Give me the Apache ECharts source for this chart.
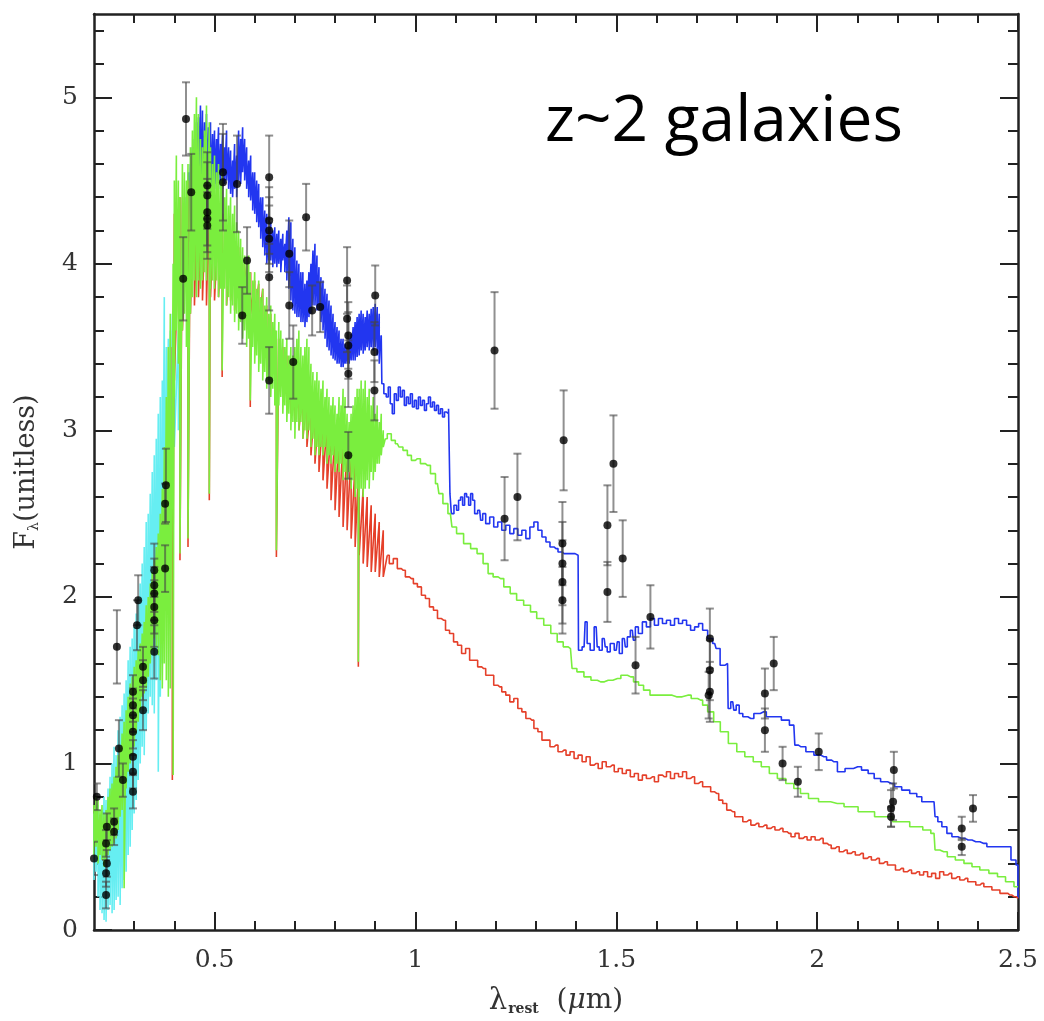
<!DOCTYPE html>
<html>
<head>
<meta charset="utf-8">
<script src="https://cdn.jsdelivr.net/npm/echarts@6/dist/echarts.min.js"></script>
<style>
  html, body { margin: 0; padding: 0; background: #fff; }
  #main { width: 1044px; height: 1021px; }
</style>
</head>
<body>
<div id="main"></div>
<script>
// ---- axis ticks ----
const xMajor = [0.5, 1, 1.5, 2, 2.5];
const xMinor = [0.3, 0.4, 0.6, 0.7, 0.8, 0.9, 1.1, 1.2, 1.3, 1.4, 1.6, 1.7, 1.8, 1.9, 2.1, 2.2, 2.3, 2.4];
const yMajor = [0, 1, 2, 3, 4, 5];
const yMinor = [0.2, 0.4, 0.6, 0.8, 1.2, 1.4, 1.6, 1.8, 2.2, 2.4, 2.6, 2.8, 3.2, 3.4, 3.6, 3.8, 4.2, 4.4, 4.6, 4.8, 5.2, 5.4];

// ---- model spectra: noisy part as [x, high, low], smooth part as [x, y] ----
const cyanBand = [
  [0.200,0.70,0.30],[0.205,0.62,0.35],[0.210,0.75,0.20],[0.215,0.68,0.12],[0.220,0.72,0.10],[0.225,0.80,0.06],
  [0.230,0.78,0.05],[0.235,0.85,0.12],[0.240,0.92,0.15],[0.245,1.00,0.10],[0.250,1.10,0.12],[0.255,1.05,0.18],
  [0.260,1.20,0.20],[0.265,1.28,0.15],[0.270,1.35,0.25],[0.275,1.42,0.30],[0.280,1.50,0.35],[0.285,1.62,0.45],
  [0.290,1.70,0.50],[0.295,1.75,0.60],[0.300,1.82,0.70],[0.305,1.90,0.78],[0.310,2.00,0.90],[0.315,2.08,1.00],
  [0.320,2.20,1.10],[0.325,2.30,1.05],[0.330,2.45,1.20],[0.335,2.50,1.30],[0.340,2.62,1.40],[0.345,2.75,1.35],
  [0.350,2.85,1.30],[0.355,2.95,1.50],[0.360,3.10,0.95],[0.365,3.20,1.40],[0.370,3.30,1.60],[0.375,3.80,1.90],
  [0.380,3.50,2.20],[0.385,3.55,2.40],[0.390,3.60,2.50],[0.395,3.70,2.80],[0.400,3.65,2.90],[0.410,3.60,3.00]
];

const blueBand = [
  [0.430,4.40,3.90],[0.435,4.55,3.95],[0.440,4.60,4.00],[0.445,4.70,4.05],[0.450,4.75,4.10],[0.455,4.85,4.20],
  [0.460,4.88,4.30],[0.465,4.95,4.35],[0.470,4.92,4.40],[0.475,4.85,4.38],[0.480,4.90,4.45],[0.485,4.82,4.40],
  [0.490,4.85,4.42],[0.495,4.78,4.45],[0.500,4.80,4.45],[0.505,4.75,4.48],[0.510,4.82,4.50],[0.515,4.72,4.45],
  [0.520,4.78,4.45],[0.525,4.70,4.48],[0.530,4.80,4.50],[0.535,4.70,4.45],[0.540,4.68,4.42],[0.545,4.62,4.40],
  [0.550,4.72,4.45],[0.555,4.65,4.40],[0.560,4.80,4.50],[0.565,4.75,4.48],[0.570,4.82,4.55],[0.575,4.75,4.50],
  [0.580,4.70,4.45],[0.585,4.62,4.40],[0.590,4.65,4.38],[0.595,4.55,4.32],[0.600,4.55,4.30],[0.605,4.50,4.25],
  [0.610,4.48,4.22],[0.615,4.40,4.15],[0.620,4.40,4.10],[0.625,4.32,4.05],[0.630,4.30,4.00],[0.635,4.22,4.02],
  [0.640,4.25,4.02],[0.645,4.20,3.98],[0.650,4.22,4.00],[0.655,4.18,3.98],[0.660,4.20,4.00],[0.665,4.15,3.95],
  [0.670,4.18,4.02],[0.675,4.12,3.95],[0.680,4.20,3.90],[0.685,4.28,3.85],[0.690,4.25,3.78],[0.695,4.15,3.72],
  [0.700,4.10,3.70],[0.705,4.02,3.68],[0.710,4.00,3.68],[0.715,3.95,3.65],[0.720,3.95,3.65],[0.725,3.88,3.62],
  [0.730,3.90,3.65],[0.735,3.95,3.68],[0.740,4.00,3.70],[0.745,4.08,3.75],[0.750,4.12,3.75],[0.755,4.05,3.72],
  [0.760,3.98,3.72],[0.765,3.92,3.65],[0.770,3.90,3.60],[0.775,3.85,3.55],[0.780,3.82,3.50],[0.785,3.78,3.48],
  [0.790,3.75,3.45],[0.795,3.70,3.43],[0.800,3.65,3.42],[0.805,3.62,3.40],[0.810,3.60,3.40],[0.815,3.55,3.38],
  [0.820,3.55,3.38],[0.825,3.52,3.40],[0.830,3.50,3.40],[0.835,3.55,3.40],[0.840,3.58,3.42],[0.845,3.62,3.42],
  [0.850,3.65,3.42],[0.855,3.68,3.44],[0.860,3.70,3.45],[0.865,3.72,3.48],[0.870,3.70,3.46],[0.875,3.68,3.48],
  [0.880,3.72,3.50],[0.885,3.70,3.48],[0.890,3.73,3.50],[0.895,3.74,3.48],[0.900,3.76,3.50],[0.905,3.74,3.45],
  [0.910,3.70,3.40]
];
const blueTail = [
  [0.915,3.57],[0.918,3.28],[0.925,3.22],[0.93,3.20],[0.935,3.26],[0.94,3.16],[0.945,3.10],[0.95,3.22],[0.955,3.18],
  [0.96,3.26],[0.965,3.20],[0.97,3.24],[0.975,3.15],[0.98,3.20],[0.985,3.16],[0.99,3.22],[0.995,3.14],[1.0,3.18],
  [1.005,3.13],[1.01,3.20],[1.015,3.15],[1.02,3.18],[1.025,3.12],[1.03,3.16],[1.035,3.20],[1.04,3.14],[1.045,3.17],
  [1.05,3.12],[1.055,3.15],[1.06,3.10],[1.065,3.13],[1.07,3.08],[1.075,3.11],[1.08,3.10],[1.085,3.13],[1.087,2.62],
  [1.092,2.50],[1.1,2.55],[1.105,2.52],[1.11,2.58],[1.115,2.60],[1.12,2.55],[1.125,2.62],[1.13,2.60],[1.135,2.55],
  [1.14,2.62],[1.145,2.58],[1.15,2.50],[1.16,2.52],[1.165,2.46],[1.17,2.50],[1.18,2.44],[1.19,2.48],[1.2,2.42],
  [1.21,2.45],[1.22,2.40],[1.23,2.43],[1.24,2.38],[1.25,2.41],[1.26,2.37],[1.27,2.40],[1.28,2.35],[1.29,2.42],
  [1.3,2.45],[1.31,2.40],[1.32,2.36],[1.33,2.33],[1.34,2.30],[1.35,2.29],[1.36,2.27],[1.37,2.26],[1.38,2.26],
  [1.39,2.26],[1.405,2.25],[1.407,1.68],[1.41,1.68],[1.42,1.70],[1.425,1.85],[1.43,1.72],[1.44,1.68],[1.45,1.82],
  [1.455,1.70],[1.46,1.68],[1.47,1.75],[1.475,1.70],[1.48,1.67],[1.49,1.72],[1.5,1.68],[1.505,1.73],[1.51,1.66],
  [1.52,1.75],[1.525,1.70],[1.53,1.76],[1.54,1.80],[1.545,1.74],[1.55,1.82],[1.56,1.78],[1.57,1.85],[1.58,1.82],
  [1.59,1.87],[1.6,1.83],[1.61,1.87],[1.62,1.84],[1.63,1.86],[1.64,1.83],[1.65,1.87],[1.66,1.84],[1.67,1.86],
  [1.68,1.83],[1.69,1.80],[1.7,1.82],[1.71,1.84],[1.72,1.80],[1.735,1.75],[1.745,1.72],[1.752,1.69],[1.765,1.59],
  [1.777,1.60],[1.78,1.33],[1.79,1.37],[1.795,1.32],[1.802,1.35],[1.81,1.30],[1.82,1.28],[1.835,1.27],[1.85,1.30],
  [1.867,1.31],[1.88,1.28],[1.902,1.28],[1.92,1.26],[1.942,1.23],[1.947,1.11],[1.96,1.10],[1.984,1.07],[2.0,1.05],
  [2.017,1.04],[2.03,1.02],[2.042,1.01],[2.059,0.95],[2.08,0.97],[2.101,0.98],[2.12,0.96],[2.134,0.94],[2.15,0.91],
  [2.166,0.89],[2.185,0.88],[2.201,0.86],[2.22,0.84],[2.241,0.82],[2.255,0.80],[2.266,0.77],[2.291,0.77],[2.296,0.68],
  [2.305,0.65],[2.316,0.62],[2.33,0.58],[2.341,0.56],[2.36,0.55],[2.376,0.54],[2.395,0.53],[2.415,0.52],[2.43,0.50],
  [2.45,0.50],[2.475,0.50],[2.49,0.42],[2.5,0.39],[2.5,0.19]
];

const redBand = [
  [0.395,3.50,0.90],[0.400,4.30,3.30],[0.414,4.40,2.22],[0.420,4.40,3.60],[0.434,4.50,2.30],[0.440,4.50,3.70],
  [0.450,4.60,3.75],[0.460,4.60,3.80],[0.470,4.50,3.78],[0.480,4.50,3.75],[0.487,4.45,2.58],[0.490,4.40,3.80],
  [0.500,4.40,3.78],[0.510,4.30,3.80],[0.519,4.25,3.32],[0.520,4.30,3.82],[0.530,4.20,3.75],[0.540,4.20,3.78],
  [0.550,4.10,3.72],[0.560,4.10,3.80],[0.570,4.00,3.72],[0.580,4.00,3.75],[0.589,3.95,3.14],[0.590,3.95,3.70],
  [0.600,3.90,3.68],[0.610,3.88,3.60],[0.620,3.85,3.50],[0.630,3.75,3.45],[0.640,3.70,3.38],[0.650,3.60,3.30],
  [0.654,3.55,2.24],[0.660,3.55,3.25],[0.670,3.50,3.20],[0.680,3.45,3.15],[0.690,3.40,3.10],[0.700,3.35,3.05],
  [0.710,3.30,3.00],[0.720,3.25,2.95],[0.730,3.22,2.90],[0.740,3.20,2.85],[0.750,3.18,2.80],[0.760,3.15,2.75],
  [0.770,3.10,2.70],[0.780,3.05,2.65],[0.790,3.02,2.58],[0.800,3.00,2.52],[0.810,2.98,2.48],[0.820,2.95,2.42],
  [0.830,2.92,2.40],[0.840,2.88,2.35],[0.850,2.80,2.30],[0.858,2.75,1.58],[0.860,2.72,2.25],[0.870,2.65,2.20],
  [0.880,2.60,2.18],[0.890,2.55,2.15],[0.900,2.50,2.15],[0.910,2.45,2.12],[0.920,2.40,2.12]
];
const redTail = [
  [0.93,2.25],[0.94,2.20],[0.95,2.23],[0.96,2.17],[0.97,2.16],[0.98,2.12],[0.99,2.11],[1.00,2.08],[1.01,2.06],
  [1.02,2.01],[1.03,1.99],[1.04,1.94],[1.05,1.92],[1.06,1.87],[1.07,1.86],[1.08,1.80],[1.09,1.78],[1.10,1.73],
  [1.11,1.71],[1.12,1.66],[1.13,1.69],[1.14,1.62],[1.15,1.62],[1.16,1.58],[1.17,1.57],[1.18,1.53],[1.19,1.53],
  [1.20,1.47],[1.21,1.46],[1.22,1.43],[1.23,1.41],[1.24,1.37],[1.25,1.39],[1.26,1.33],[1.27,1.31],[1.28,1.27],
  [1.29,1.26],[1.30,1.21],[1.31,1.19],[1.32,1.14],[1.33,1.14],[1.34,1.10],[1.35,1.11],[1.36,1.07],[1.37,1.08],
  [1.38,1.05],[1.39,1.07],[1.40,1.03],[1.41,1.05],[1.42,1.01],[1.43,1.04],[1.44,0.99],[1.45,1.00],[1.46,0.97],
  [1.47,1.01],[1.48,0.98],[1.49,0.99],[1.50,0.95],[1.51,0.97],[1.52,0.94],[1.53,0.96],[1.54,0.92],[1.55,0.94],
  [1.56,0.90],[1.57,0.93],[1.58,0.91],[1.59,0.92],[1.60,0.89],[1.61,0.93],[1.62,0.92],[1.63,0.95],[1.64,0.91],
  [1.65,0.94],[1.66,0.92],[1.67,0.95],[1.68,0.91],[1.69,0.92],[1.70,0.88],[1.71,0.89],[1.72,0.86],[1.73,0.86],
  [1.74,0.83],[1.75,0.82],[1.76,0.78],[1.77,0.76],[1.78,0.72],[1.79,0.71],[1.80,0.68],[1.81,0.68],[1.82,0.65],
  [1.83,0.66],[1.84,0.63],[1.85,0.64],[1.86,0.62],[1.87,0.63],[1.88,0.61],[1.89,0.62],[1.90,0.60],[1.91,0.61],
  [1.92,0.59],[1.93,0.58],[1.94,0.56],[1.95,0.58],[1.96,0.55],[1.97,0.56],[1.98,0.54],[1.99,0.56],[2.00,0.54],
  [2.01,0.55],[2.02,0.52],[2.03,0.51],[2.04,0.49],[2.05,0.50],[2.06,0.47],[2.07,0.48],[2.08,0.46],[2.09,0.47],
  [2.10,0.45],[2.11,0.46],[2.12,0.43],[2.13,0.44],[2.14,0.42],[2.15,0.43],[2.16,0.40],[2.17,0.41],[2.18,0.39],
  [2.19,0.39],[2.20,0.36],[2.21,0.37],[2.22,0.35],[2.23,0.36],[2.24,0.34],[2.25,0.35],[2.26,0.33],[2.27,0.35],
  [2.28,0.32],[2.29,0.34],[2.30,0.31],[2.31,0.35],[2.32,0.33],[2.33,0.34],[2.34,0.31],[2.35,0.32],[2.36,0.30],
  [2.37,0.31],[2.38,0.29],[2.39,0.29],[2.40,0.27],[2.41,0.28],[2.42,0.26],[2.43,0.26],[2.44,0.24],[2.45,0.24],
  [2.46,0.22],[2.47,0.22],[2.48,0.21],[2.49,0.20],[2.50,0.19]
];

const greenBand = [
  [0.200,0.75,0.45],[0.205,0.80,0.50],[0.210,0.78,0.40],[0.215,0.72,0.45],[0.220,0.75,0.42],[0.225,0.70,0.38],
  [0.230,0.72,0.40],[0.235,0.80,0.45],[0.240,0.85,0.48],[0.245,0.88,0.50],[0.250,0.92,0.52],[0.255,0.98,0.55],
  [0.260,1.05,0.60],[0.265,1.10,0.68],[0.270,1.18,0.72],[0.275,1.25,0.25],[0.280,1.32,0.85],[0.285,1.40,0.95],
  [0.290,1.48,1.00],[0.295,1.52,1.05],[0.300,1.58,1.10],[0.305,1.62,1.18],[0.310,1.68,1.25],[0.315,1.72,1.32],
  [0.320,1.78,1.40],[0.325,1.85,1.42],[0.330,1.95,1.45],[0.335,2.00,1.52],[0.340,2.08,1.60],[0.345,2.15,1.68],
  [0.350,2.22,1.75],[0.355,2.30,1.70],[0.360,2.38,1.65],[0.365,2.50,1.50],[0.370,2.65,1.45],[0.375,2.90,1.60],
  [0.380,3.20,1.50],[0.385,3.50,1.40],[0.390,3.70,1.45],[0.397,4.00,0.93],[0.400,4.50,3.20],[0.405,4.65,3.60],
  [0.410,4.50,3.40],[0.414,4.40,2.26],[0.420,4.60,3.60],[0.425,4.55,3.70],[0.430,4.50,3.50],[0.434,4.60,2.35],
  [0.440,4.70,3.70],[0.445,4.80,3.80],[0.450,4.90,3.90],[0.455,5.00,3.80],[0.460,4.90,3.90],[0.465,4.75,3.85],
  [0.470,4.70,3.90],[0.475,4.80,3.95],[0.480,4.95,3.90],[0.487,4.85,2.62],[0.490,4.70,3.85],[0.495,4.60,3.90],
  [0.500,4.65,3.85],[0.505,4.55,3.90],[0.510,4.60,3.80],[0.515,4.50,3.85],[0.519,4.55,3.36],[0.525,4.40,3.85],
  [0.530,4.45,3.75],[0.535,4.35,3.80],[0.540,4.40,3.70],[0.545,4.30,3.75],[0.550,4.35,3.65],[0.555,4.25,3.70],
  [0.560,4.20,3.60],[0.565,4.15,3.65],[0.570,4.10,3.55],[0.575,4.05,3.60],[0.580,4.00,3.50],[0.585,4.05,3.55],
  [0.589,3.95,3.18],[0.595,3.90,3.50],[0.600,3.95,3.40],[0.605,3.85,3.45],[0.610,3.90,3.35],[0.615,3.80,3.40],
  [0.620,3.85,3.30],[0.625,3.75,3.35],[0.630,3.80,3.25],[0.635,3.70,3.30],[0.640,3.75,3.20],[0.645,3.65,3.25],
  [0.650,3.70,3.15],[0.654,3.60,2.28],[0.660,3.65,3.15],[0.665,3.60,3.20],[0.670,3.55,3.10],[0.675,3.50,3.15],
  [0.680,3.55,3.05],[0.685,3.45,3.10],[0.690,3.50,3.00],[0.695,3.45,3.05],[0.700,3.50,2.95],[0.705,3.55,3.05],
  [0.710,3.60,3.00],[0.715,3.50,3.05],[0.720,3.45,2.95],[0.725,3.50,3.00],[0.730,3.55,2.95],[0.735,3.50,3.00],
  [0.740,3.40,2.90],[0.745,3.35,2.95],[0.750,3.30,2.85],[0.755,3.35,2.90],[0.760,3.30,2.85],[0.765,3.25,2.90],
  [0.770,3.30,2.85],[0.775,3.20,2.90],[0.780,3.25,2.80],[0.785,3.20,2.85],[0.790,3.15,2.80],[0.795,3.20,2.85],
  [0.800,3.15,2.75],[0.805,3.10,2.80],[0.810,3.20,2.75],[0.815,3.15,2.80],[0.820,3.25,2.70],[0.825,3.20,2.75],
  [0.830,3.10,2.70],[0.835,3.05,2.75],[0.840,3.10,2.65],[0.845,3.15,2.70],[0.850,3.20,2.60],[0.855,3.25,2.65],
  [0.858,3.20,1.61],[0.860,3.25,2.60],[0.865,3.30,2.65],[0.870,3.25,2.60],[0.875,3.30,2.65],[0.880,3.20,2.70],
  [0.885,3.25,2.65],[0.890,3.15,2.75],[0.895,3.20,2.70],[0.900,3.10,2.75],[0.905,3.15,2.80],[0.910,3.05,2.80],
  [0.915,3.10,2.85],[0.920,3.00,2.90]
];
const greenTail = [
  [0.925,2.95],[0.935,2.98],[0.945,2.94],[0.955,2.92],[0.963,2.90],[0.975,2.88],[0.985,2.85],[0.995,2.82],
  [1.005,2.83],[1.02,2.80],[1.03,2.79],[1.045,2.74],[1.055,2.68],[1.062,2.62],[1.075,2.56],[1.087,2.50],
  [1.095,2.42],[1.11,2.38],[1.13,2.32],[1.145,2.29],[1.162,2.26],[1.175,2.20],[1.187,2.14],[1.2,2.12],
  [1.212,2.11],[1.228,2.06],[1.244,2.02],[1.26,1.98],[1.279,1.95],[1.294,1.91],[1.31,1.87],[1.329,1.83],
  [1.345,1.78],[1.361,1.73],[1.375,1.70],[1.386,1.69],[1.394,1.57],[1.41,1.55],[1.429,1.52],[1.445,1.50],
  [1.461,1.49],[1.48,1.50],[1.503,1.51],[1.52,1.53],[1.536,1.52],[1.55,1.49],[1.561,1.47],[1.575,1.44],
  [1.593,1.41],[1.61,1.41],[1.628,1.41],[1.65,1.40],[1.678,1.41],[1.695,1.39],[1.71,1.38],[1.72,1.35],
  [1.735,1.31],[1.75,1.25],[1.768,1.19],[1.79,1.12],[1.81,1.07],[1.83,1.04],[1.852,1.01],[1.87,0.98],
  [1.892,0.94],[1.91,0.91],[1.934,0.88],[1.95,0.85],[1.967,0.82],[1.99,0.79],[2.017,0.77],[2.05,0.76],
  [2.084,0.74],[2.12,0.71],[2.166,0.68],[2.21,0.65],[2.251,0.62],[2.275,0.60],[2.291,0.58],[2.296,0.48],
  [2.315,0.47],[2.333,0.44],[2.355,0.42],[2.376,0.40],[2.395,0.38],[2.415,0.36],[2.44,0.34],[2.458,0.32],
  [2.48,0.29],[2.5,0.26]
];

// ---- photometric points ----
const ptX = [0.200,0.207,0.232,0.230,0.232,0.230,0.230,0.250,0.250,0.257,0.262,0.272,0.297,0.297,0.297,0.297,0.297,0.297,0.297,
  0.307,0.310,0.322,0.322,0.322,0.350,0.350,0.350,0.350,0.350,0.350,0.379,0.377,0.377,0.422,0.429,0.442,0.482,0.482,0.482,0.482,0.482,
  0.521,0.521,0.556,0.569,0.581,0.636,0.636,0.636,0.636,0.636,0.636,0.686,0.686,0.696,0.728,0.743,0.763,0.830,0.830,0.833,0.833,0.833,0.833,
  0.900,0.898,0.898,1.197,1.222,1.254,1.369,1.366,1.366,1.366,1.366,1.478,1.478,1.493,1.516,1.548,1.585,1.733,1.733,1.733,1.730,
  1.870,1.870,1.892,1.914,1.952,2.004,2.191,2.189,2.184,2.184,2.360,2.360,2.388];
const ptY = [0.43,0.80,0.62,0.52,0.40,0.34,0.21,0.65,0.59,1.70,1.09,0.90,1.43,1.35,1.29,1.19,1.04,0.95,0.83,
  1.83,1.98,1.58,1.50,1.32,2.16,2.07,2.02,1.94,1.86,1.67,2.67,2.56,2.17,3.91,4.87,4.43,4.47,4.41,4.31,4.27,4.23,
  4.55,4.49,4.48,3.69,4.02,4.52,4.26,4.20,4.15,3.92,3.30,4.06,3.75,3.41,4.28,3.72,3.74,3.90,3.67,3.57,3.51,3.34,2.85,
  3.81,3.47,3.24,3.48,2.47,2.60,2.94,2.32,2.20,2.09,1.98,2.43,2.03,2.80,2.23,1.59,1.88,1.75,1.56,1.43,1.41,
  1.42,1.20,1.60,1.00,0.89,1.07,0.96,0.77,0.73,0.68,0.61,0.50,0.73];
const ptErr = [0.10,0.08,0.08,0.08,0.08,0.08,0.08,0.08,0.08,0.22,0.17,0.10,0.10,0.10,0.10,0.10,0.10,0.10,0.10,
  0.15,0.15,0.12,0.12,0.12,0.16,0.16,0.16,0.16,0.16,0.16,0.22,0.12,0.14,0.25,0.22,0.23,0.20,0.20,0.20,0.20,0.20,
  0.29,0.29,0.29,0.17,0.20,0.25,0.20,0.20,0.20,0.20,0.20,0.20,0.20,0.22,0.20,0.15,0.15,0.20,0.20,0.20,0.20,0.20,0.14,
  0.18,0.18,0.18,0.35,0.25,0.26,0.30,0.25,0.25,0.25,0.20,0.24,0.18,0.29,0.23,0.17,0.19,0.18,0.18,0.18,0.14,
  0.15,0.13,0.16,0.10,0.09,0.11,0.11,0.11,0.11,0.06,0.07,0.05,0.08];

const AXIS = '#222';
const LABEL = '#333';
const SERIF = '"DejaVu Serif", "Liberation Serif", serif';

// noisy stretch drawn as a tight zig-zag between high and low values
function zigzag(band, next) {
  const out = [];
  band.forEach(function (b) { out.push([b[0], b[1]]); out.push([b[0], b[2]]); });
  if (next) out.push(next);
  return out;
}

function xAxisOf(pos, ticks, len, withLine, withLabel) {
  return {
    type: 'value', min: 0.2, max: 2.5, position: pos, offset: 0,
    axisLine: { show: withLine, onZero: false, lineStyle: { color: AXIS, width: 2.5 } },
    axisTick: { show: true, inside: true, length: len, customValues: ticks, lineStyle: { color: AXIS, width: 2 } },
    axisLabel: withLabel ? {
      customValues: ticks, margin: 18, color: LABEL, fontFamily: SERIF, fontSize: 25,
      formatter: function (v) { return String(v); }
    } : { show: false },
    splitLine: { show: false }
  };
}
function yAxisOf(pos, ticks, len, withLine, withLabel) {
  return {
    type: 'value', min: 0, max: 5.5, position: pos, offset: 0,
    axisLine: { show: withLine, onZero: false, lineStyle: { color: AXIS, width: 2.5 } },
    axisTick: { show: true, inside: true, length: len, customValues: ticks, lineStyle: { color: AXIS, width: 2 } },
    axisLabel: withLabel ? {
      customValues: ticks, margin: 16, color: LABEL, fontFamily: SERIF, fontSize: 25,
      formatter: function (v) { return String(v); }
    } : { show: false },
    splitLine: { show: false }
  };
}

const xBottom = xAxisOf('bottom', xMajor, 18, true, true);
xBottom.name = '{l|λ}{s|rest}  ({u|μ}m)';
xBottom.nameLocation = 'middle';
xBottom.nameGap = 56;
xBottom.nameTextStyle = {
  fontFamily: SERIF, fontSize: 28, color: LABEL,
  rich: {
    l: { fontFamily: SERIF, fontSize: 29, color: LABEL },
    s: { fontFamily: SERIF, fontSize: 14, fontWeight: 'bold', color: LABEL, padding: [16, 0, 0, 1] },
    u: { fontFamily: SERIF, fontSize: 28, fontStyle: 'italic', color: LABEL }
  }
};
const yLeft = yAxisOf('left', yMajor, 18, true, true);
yLeft.name = '{f|F}{s|λ}(unitless)';
yLeft.nameLocation = 'middle';
yLeft.nameRotate = 90;
yLeft.nameGap = 53;
yLeft.nameTextStyle = {
  fontFamily: SERIF, fontSize: 27, color: LABEL,
  rich: {
    f: { fontFamily: SERIF, fontSize: 27, color: LABEL },
    s: { fontFamily: SERIF, fontSize: 14, color: LABEL, padding: [14, 0, 0, 0] }
  }
};

function specSeries(name, color, z, band, tail) {
  return [
    { name: name, type: 'line', data: zigzag(band, tail && tail[0]), showSymbol: false, clip: true,
      lineStyle: { color: color, width: 1.6 }, z: z },
    tail ? { name: name, type: 'line', data: tail, step: 'middle', showSymbol: false, clip: true,
      lineStyle: { color: color, width: 1.6 }, z: z } : null
  ].filter(Boolean);
}

const chart = echarts.init(document.getElementById('main'), null, { renderer: 'canvas' });
chart.setOption({
  animation: false,
  backgroundColor: '#fff',
  grid: { left: 94, top: 14, width: 924, height: 923, containLabel: false },
  xAxis: [
    xBottom,
    xAxisOf('bottom', xMinor, 9, false, false),
    xAxisOf('top', xMajor, 18, true, false),
    xAxisOf('top', xMinor, 9, false, false)
  ],
  yAxis: [
    yLeft,
    yAxisOf('left', yMinor, 10, false, false),
    yAxisOf('right', yMajor, 18, true, false),
    yAxisOf('right', yMinor, 10, false, false)
  ],
  graphic: [{
    type: 'text', left: 545, top: 91, z: 100,
    style: { text: 'z~2 galaxies', fill: '#000', font: '64px "Open Sans", "Noto Sans", sans-serif' }
  }],
  series: [].concat(
    specSeries('cyan', '#66eef2', 2, cyanBand),
    specSeries('blue', '#2236f0', 3, blueBand, blueTail),
    specSeries('red', '#e5402a', 4, redBand, redTail),
    specSeries('green', '#7aee3e', 5, greenBand, greenTail),
    [{
      name: 'errors', type: 'custom', z: 6, clip: true,
      data: ptX.map(function (x, i) { return [x, ptY[i], ptErr[i]]; }),
      renderItem: function (params, api) {
        const x = api.value(0), y = api.value(1), e = api.value(2);
        const hi = api.coord([x, y + e]);
        const lo = api.coord([x, y - e]);
        const style = { stroke: 'rgba(70,70,70,0.6)', lineWidth: 2 };
        const cap = 4;
        return {
          type: 'group',
          children: [
            { type: 'line', shape: { x1: hi[0], y1: hi[1], x2: lo[0], y2: lo[1] }, style: style },
            { type: 'line', shape: { x1: hi[0] - cap, y1: hi[1], x2: hi[0] + cap, y2: hi[1] }, style: style },
            { type: 'line', shape: { x1: lo[0] - cap, y1: lo[1], x2: lo[0] + cap, y2: lo[1] }, style: style }
          ]
        };
      }
    }, {
      name: 'points', type: 'scatter', z: 7,
      data: ptX.map(function (x, i) { return [x, ptY[i]]; }),
      symbol: 'circle', symbolSize: 8,
      itemStyle: { color: '#000' }
    }]
  )
});
</script>
</body>
</html>
